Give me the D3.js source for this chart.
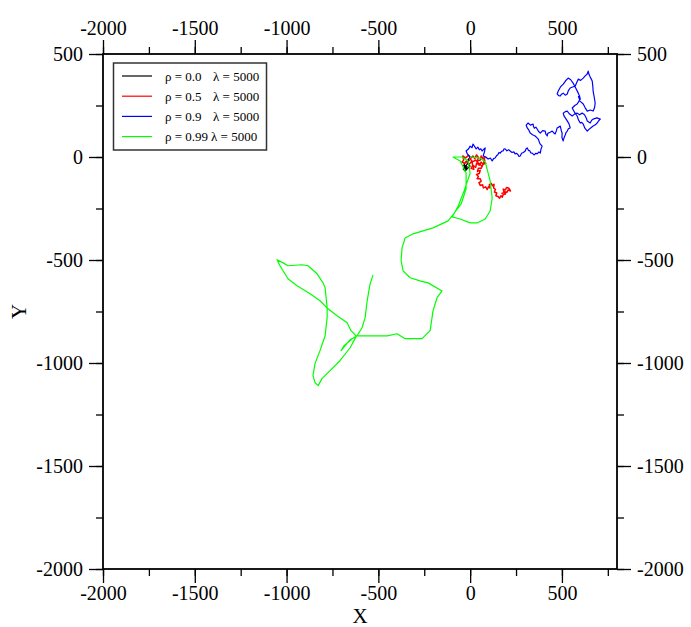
<!DOCTYPE html>
<html>
<head>
<meta charset="utf-8">
<script src="https://cdn.jsdelivr.net/npm/d3@7"></script>
<style>
  html, body { margin: 0; padding: 0; background: #fff; }
  svg { display: block; }
  text { font-family: "Liberation Serif", "Times New Roman", serif; fill: #000; }
</style>
</head>
<body>
<svg id="chart" width="691" height="627"></svg>
<script>
// ---- data ----
const xTicks = [-2000, -1500, -1000, -500, 0, 500];
const yTicks = [500, 0, -500, -1000, -1500, -2000];
const xDomain = [-2000, 800];
const yDomain = [-2000, 500];

const seriesNames = ["ρ = 0.0", "ρ = 0.5", "ρ = 0.9", "ρ = 0.99"];
const lambdaLabels = ["λ = 5000", "λ = 5000", "λ = 5000", "λ = 5000"];
const seriesColors = ["#000000", "#ff0000", "#0000ff", "#00ff00"];

const walk0 = [[0,0],[-16,-19],[-33,-34],[-22,-48],[-38,-58],[-27,-68],[-11,-53],[0,-44],[-16,-29],[-5,-15],[-20,-40],[-30,-50],[-35,-40],[-25,-60],[-15,-45]];

const walk5 = [[0,0],[-10,8],[-25,-5],[-40,5],[-35,-15],[-45,-25],[-30,-30],[-20,-20],[-5,-35],[10,-20],[0,-10],[15,5],[25,-8],[35,10],[45,-2],[40,-20],[55,-15],[60,5],[70,-8],[80,0],[75,-20],[85,-30],[70,-35],[60,-25],[50,-40],[35,-30],[30,-50],[15,-40],[5,-55],[20,-60],[10,-25],[30,-15],[45,-30],[65,-45],[80,-15],[60,-55],[45,-55],[40,-70],[55,-65],[50,-80],[35,-85],[45,-95],[38,-105],[55,-105],[60,-118],[48,-125],[55,-138],[68,-135],[72,-150],[85,-145],[93,-158],[100,-145],[108,-150],[104,-135],[115,-128],[122,-140],[130,-132],[128,-150],[138,-158],[132,-170],[145,-175],[140,-188],[152,-192],[160,-200],[168,-188],[175,-195],[180,-182],[192,-180],[188,-168],[200,-172],[207,-160],[220,-165],[212,-152],[198,-148],[192,-160],[180,-156],[185,-172],[170,-178]];

const walk9 = [[0,0],[-15,15],[-22,29],[-8,40],[0,53],[10,45],[16,63],[25,50],[33,39],[42,48],[50,35],[58,40],[65,29],[75,38],[82,44],[78,25],[71,5],[85,0],[98,-10],[110,-5],[120,-19],[128,-8],[136,-5],[145,8],[150,10],[157,22],[164,19],[172,28],[180,30],[185,40],[191,39],[200,30],[210,35],[218,29],[228,22],[238,25],[245,15],[252,18],[260,12],[266,3],[273,5],[280,18],[290,22],[300,29],[305,40],[311,44],[318,32],[325,30],[330,20],[338,19],[348,10],[358,18],[365,15],[375,25],[382,19],[386,38],[392,53],[380,65],[371,87],[362,95],[354,102],[340,108],[327,116],[320,130],[311,141],[305,155],[316,165],[328,155],[343,160],[345,148],[350,140],[358,145],[365,136],[372,125],[382,116],[395,128],[409,126],[412,112],[420,102],[422,112],[425,116],[436,120],[447,126],[455,118],[463,112],[470,128],[474,141],[482,145],[491,150],[496,130],[501,116],[500,95],[507,78],[512,95],[518,107],[522,118],[529,126],[536,138],[545,141],[538,162],[523,184],[512,198],[507,213],[518,220],[529,223],[540,210],[556,199],[568,208],[583,213],[596,205],[610,213],[620,208],[627,199],[633,188],[638,175],[646,170],[654,165],[662,178],[670,184],[690,190],[709,184],[700,175],[692,165],[680,155],[670,150],[655,140],[638,126],[625,140],[616,160],[608,168],[600,165],[590,180],[583,199],[570,215],[556,238],[570,250],[583,257],[592,270],[600,281],[596,296],[589,310],[575,335],[561,359],[548,375],[534,383],[520,370],[507,354],[492,340],[480,320],[474,306],[482,298],[491,296],[498,305],[507,310],[518,300],[529,306],[535,322],[545,335],[558,340],[572,344],[580,360],[589,378],[602,372],[616,383],[628,395],[638,403],[643,417],[648,400],[654,388],[660,378],[665,369],[668,345],[670,320],[676,290],[681,262],[678,240],[670,223],[655,228],[638,223],[626,240],[616,257],[600,270],[589,296]];

const walk99 = [[0,0],[54,-5],[82,-24],[109,-116],[120,-199],[109,-262],[82,-301],[38,-320],[0,-320],[-54,-301],[-98,-291],[-65,-238],[-33,-165],[0,-78],[-11,-19],[-44,0],[-93,0],[-54,-19],[-22,-78],[-22,-155],[-49,-228],[-82,-267],[-120,-310],[-202,-344],[-311,-373],[-354,-393],[-371,-441],[-376,-504],[-365,-553],[-327,-586],[-273,-601],[-229,-611],[-153,-650],[-180,-683],[-202,-746],[-218,-843],[-262,-882],[-354,-882],[-398,-858],[-452,-868],[-545,-868],[-621,-868],[-649,-843],[-670,-805],[-725,-771],[-774,-737],[-818,-698],[-872,-664],[-943,-625],[-992,-591],[-1036,-528],[-1052,-499],[-1019,-514],[-992,-528],[-916,-523],[-883,-528],[-834,-567],[-801,-611],[-790,-635],[-779,-732],[-779,-780],[-790,-868],[-818,-940],[-845,-1003],[-856,-1061],[-845,-1095],[-828,-1110],[-807,-1076],[-763,-1037],[-709,-989],[-654,-926],[-621,-872],[-654,-887],[-703,-940],[-687,-916],[-643,-882],[-616,-868],[-589,-829],[-572,-780],[-561,-698],[-545,-616],[-529,-572]];

const walks = [walk0, walk5, walk9, walk99];
const widths = [1.2, 1.5, 1.2, 1.2];

// ---- layout ----
const FONT = '"Liberation Serif", "Times New Roman", serif';
const svg = d3.select("#chart");
const L = 103, R = 617, T = 54, B = 569;
const x = d3.scaleLinear().domain(xDomain).range([L, R]);
const y = d3.scaleLinear().domain(yDomain).range([B, T]);

const line = d3.line().x(d => x(d[0])).y(d => y(d[1]));

svg.append("clipPath").attr("id", "clip").append("rect")
  .attr("x", L).attr("y", T).attr("width", R - L).attr("height", B - T);
const g = svg.append("g").attr("clip-path", "url(#clip)");
walks.forEach((w, i) => {
  g.append("path").datum(w).attr("d", line)
    .attr("fill", "none").attr("stroke", seriesColors[i])
    .attr("stroke-width", widths[i]).attr("stroke-linejoin", "round");
});

// axes
const minorX = d3.range(-2000, 801, 250);
const minorY = d3.range(-2000, 501, 250);
const fs = 20;
const fmt = d => (d < 0 ? "-" + Math.abs(d) : String(d));

const axes = [
  [d3.axisBottom(x).tickValues(minorX).tickSize(7).tickFormat(""), `translate(0,${B})`],
  [d3.axisBottom(x).tickValues(xTicks).tickSize(14).tickPadding(3).tickFormat(fmt), `translate(0,${B})`],
  [d3.axisTop(x).tickValues(minorX).tickSize(7).tickFormat(""), `translate(0,${T})`],
  [d3.axisTop(x).tickValues(xTicks).tickSize(14).tickPadding(5).tickFormat(fmt), `translate(0,${T})`],
  [d3.axisLeft(y).tickValues(minorY).tickSize(7).tickFormat(""), `translate(${L},0)`],
  [d3.axisLeft(y).tickValues(yTicks).tickSize(14).tickPadding(6).tickFormat(fmt), `translate(${L},0)`],
  [d3.axisRight(y).tickValues(minorY).tickSize(7).tickFormat(""), `translate(${R},0)`],
  [d3.axisRight(y).tickValues(yTicks).tickSize(14).tickPadding(6).tickFormat(fmt), `translate(${R},0)`]
];
axes.forEach(([axis, tr]) => {
  const ga = svg.append("g").attr("transform", tr).call(axis.tickSizeOuter(0));
  ga.attr("font-family", FONT).attr("font-size", fs);
  ga.select(".domain").remove();
  ga.selectAll("line").attr("stroke", "#000").attr("stroke-width", 1.3);
  ga.selectAll("text").style("font-family", FONT).style("font-size", fs + "px").attr("fill", "#000");
});

// frame
svg.append("rect").attr("x", L).attr("y", T).attr("width", R - L).attr("height", B - T)
  .attr("fill", "none").attr("stroke", "#000").attr("stroke-width", 1.8);

// axis titles
svg.append("text").attr("x", (L + R) / 2).attr("y", 623).attr("text-anchor", "middle")
  .style("font-family", FONT).style("font-size", "21px").text("X");
svg.append("text").attr("transform", `translate(26,${(T + B) / 2}) rotate(-90)`)
  .attr("text-anchor", "middle").style("font-family", FONT).style("font-size", "21px").text("Y");

// legend
const lg = svg.append("g");
lg.append("rect").attr("x", 113.5).attr("y", 63).attr("width", 153).attr("height", 87)
  .attr("fill", "#fff").attr("stroke", "#333").attr("stroke-width", 1.5);
seriesNames.forEach((name, i) => {
  const yy = 76 + i * 20.2;
  lg.append("line").attr("x1", 122).attr("x2", 152).attr("y1", yy).attr("y2", yy)
    .attr("stroke", seriesColors[i]).attr("stroke-width", 1.2);
  lg.append("text").attr("x", 165).attr("y", yy + 4.5)
    .style("font-family", FONT).style("font-size", "13px").text(name);
  lg.append("text").attr("x", i === 3 ? 211 : 213).attr("y", yy + 4.5)
    .style("font-family", FONT).style("font-size", "13px").text(lambdaLabels[i]);
});
</script>
</body>
</html>
